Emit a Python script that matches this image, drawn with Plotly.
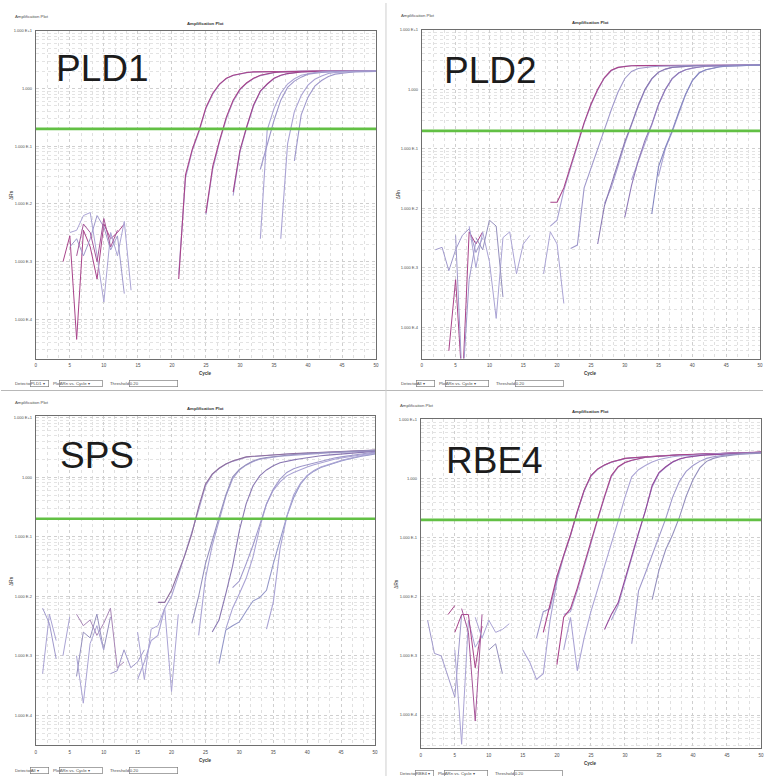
import plotly.graph_objects as go

# ---------------- data ----------------
cycle_tickvals = [0, 5, 10, 15, 20, 25, 30, 35, 40, 45, 50]
cycle_ticktext = ["0", "5", "10", "15", "20", "25", "30", "35", "40", "45", "50"]
drn_tickvals = [10, 1, 0.1, 0.01, 0.001, 0.0001]
drn_ticktext = ["1.000 E+1", "1.000", "1.000 E-1", "1.000 E-2", "1.000 E-3", "1.000 E-4"]
gene_labels = ["PLD1", "PLD2", "SPS", "RBE4"]
detectors = ["PLD1", "All", "All", "RBE4"]
plot_type = "ΔRn vs. Cycle"
threshold_drn = 0.20
threshold_text = "0.20"

# PLD1 amplification curves (first cycle, ΔRn per cycle)
pld1_start = [21, 21, 25, 25, 29, 29, 33, 33, 36, 38]
pld1_drn = [
    [6.0e-4, 0.028, 0.085, 0.18, 0.45, 0.80, 1.18, 1.49, 1.69, 1.81, 1.89, 1.94, 1.96, 1.97, 1.98, 1.99, 2.0, 2.0, 2.01, 2.0, 2.01, 2.01, 2.01, 2.02, 2.01, 2.02, 2.01, 2.02, 2.02, 2.03],
    [5.0e-4, 0.032, 0.089, 0.19, 0.47, 0.83, 1.2, 1.51, 1.70, 1.82, 1.9, 1.95, 1.96, 1.98, 1.99, 2.0, 2.0, 2.01, 2.0, 2.01, 2.01, 2.0, 2.01, 2.02, 2.01, 2.02, 2.02, 2.01, 2.02, 2.02],
    [0.0065, 0.04, 0.12, 0.30, 0.60, 0.95, 1.24, 1.49, 1.68, 1.80, 1.89, 1.94, 1.96, 1.98, 1.99, 1.99, 2.0, 2.0, 2.01, 2.01, 2.0, 2.01, 2.02, 2.01, 2.02, 2.02],
    [0.007, 0.045, 0.126, 0.32, 0.63, 0.98, 1.26, 1.51, 1.70, 1.82, 1.9, 1.95, 1.97, 1.98, 1.99, 2.0, 2.0, 2.01, 2.0, 2.01, 2.01, 2.02, 2.01, 2.02, 2.02, 2.02],
    [0.014, 0.08, 0.21, 0.50, 0.89, 1.18, 1.49, 1.69, 1.81, 1.89, 1.94, 1.96, 1.98, 1.99, 1.99, 2.0, 2.0, 2.01, 2.01, 2.02, 2.01, 2.02],
    [0.016, 0.085, 0.22, 0.52, 0.91, 1.2, 1.51, 1.70, 1.82, 1.9, 1.95, 1.97, 1.98, 1.99, 2.0, 2.0, 2.01, 2.01, 2.0, 2.01, 2.02, 2.02],
    [0.0025, 0.19, 0.45, 0.83, 1.2, 1.48, 1.70, 1.82, 1.9, 1.95, 1.97, 1.98, 1.99, 2.0, 2.0, 2.01, 2.01, 2.02],
    [0.04, 0.11, 0.28, 0.63, 1.05, 1.35, 1.58, 1.78, 1.86, 1.9, 1.95, 1.97, 1.98, 1.99, 2.0, 2.0, 2.01, 2.02],
    [0.0025, 0.11, 0.40, 0.76, 1.15, 1.45, 1.66, 1.82, 1.9, 1.95, 1.97, 1.98, 1.99, 2.0, 2.01],
    [0.056, 0.35, 0.71, 1.1, 1.38, 1.62, 1.78, 1.86, 1.9, 1.95, 1.97, 1.98, 1.99],
]
pld1_noise_start = [4, 5, 5, 6]
pld1_noise_drn = [
    [1.0e-3, 2.8e-3, 4.5e-5, 3.5e-3, 1.8e-3, 5.0e-4, 4.5e-3, 2.5e-3, 3.2e-3, 4.5e-3],
    [3.2e-3, 3.5e-3, 6.3e-3, 7.1e-3, 1.26e-3, 2.0e-4, 3.2e-3, 1.26e-3, 5.0e-3, 3.2e-4],
    [1.8e-3, 2.5e-3, 1.26e-3, 2.5e-3, 6.3e-3, 4.0e-3, 1.6e-3, 2.8e-3, 2.8e-4],
    [1.26e-3, 4.5e-3, 3.2e-3, 1.0e-3, 5.6e-3, 1.8e-3, 3.5e-3],
]

# PLD2
pld2_start = [19, 19, 22, 27, 26, 31, 30, 35, 34]
pld2_drn = [
    [0.005, 0.0063, 0.02, 0.048, 0.112, 0.265, 0.54, 0.97, 1.55, 2.05, 2.32, 2.44, 2.49, 2.5, 2.51, 2.51, 2.52, 2.52, 2.53, 2.52, 2.53, 2.53, 2.54, 2.53, 2.54, 2.54, 2.55, 2.54, 2.55, 2.55, 2.56, 2.56],
    [0.0126, 0.0126, 0.022, 0.05, 0.117, 0.275, 0.56, 1.0, 1.58, 2.09, 2.34, 2.45, 2.5, 2.51, 2.51, 2.52, 2.52, 2.53, 2.53, 2.52, 2.53, 2.54, 2.54, 2.53, 2.54, 2.55, 2.55, 2.54, 2.55, 2.56, 2.56, 2.57],
    [0.0021, 0.0024, 0.022, 0.048, 0.10, 0.21, 0.45, 0.89, 1.51, 2.0, 2.24, 2.34, 2.4, 2.45, 2.48, 2.5, 2.51, 2.51, 2.52, 2.53, 2.52, 2.53, 2.54, 2.54, 2.55, 2.54, 2.55, 2.56, 2.56],
    [0.012, 0.022, 0.05, 0.12, 0.25, 0.52, 0.97, 1.48, 1.93, 2.18, 2.33, 2.4, 2.45, 2.48, 2.5, 2.51, 2.52, 2.52, 2.53, 2.54, 2.54, 2.55, 2.55, 2.56],
    [0.0025, 0.011, 0.025, 0.056, 0.13, 0.26, 0.54, 1.0, 1.51, 1.95, 2.19, 2.34, 2.4, 2.45, 2.48, 2.5, 2.51, 2.52, 2.52, 2.53, 2.54, 2.54, 2.55, 2.55, 2.56],
    [0.03, 0.06, 0.13, 0.25, 0.55, 0.98, 1.5, 1.88, 2.13, 2.28, 2.38, 2.44, 2.48, 2.5, 2.51, 2.52, 2.53, 2.54, 2.55, 2.55],
    [0.007, 0.024, 0.063, 0.14, 0.26, 0.56, 1.0, 1.51, 1.9, 2.14, 2.29, 2.4, 2.45, 2.48, 2.5, 2.51, 2.52, 2.53, 2.54, 2.55, 2.56],
    [0.035, 0.1, 0.19, 0.41, 0.82, 1.4, 1.88, 2.13, 2.28, 2.38, 2.45, 2.49, 2.51, 2.52, 2.54, 2.55],
    [0.008, 0.05, 0.105, 0.20, 0.42, 0.83, 1.41, 1.9, 2.14, 2.29, 2.4, 2.45, 2.49, 2.51, 2.53, 2.54, 2.56],
]
pld2_noise_start = [2, 4, 7, 8, 18, 5]
pld2_noise_drn = [
    [2.0e-3, 2.2e-3, 8.9e-4, 2.0e-3, 3.5e-3, 4.5e-3, 1.8e-3, 3.2e-3],
    [4.0e-5, 6.3e-4, 1.0e-5, 4.0e-3, 2.5e-3, 4.0e-3],
    [5.0e-3, 1.0e-3, 4.0e-3, 1.26e-3, 1.4e-4, 3.2e-3, 4.0e-3, 7.9e-4, 2.5e-3, 3.5e-3],
    [3.2e-3, 2.0e-3, 6.3e-3, 5.0e-3, 3.2e-4],
    [7.9e-4, 4.0e-3, 2.5e-3, 2.5e-4],
    [3.5e-3, 1.0e-5, 6.3e-4, 2.8e-3],
]

# SPS
sps_start = [15, 18, 24, 23, 26, 28, 29, 27, 34]
sps_drn = [
    [4.0e-4, 7.9e-4, 1.8e-3, 2.2e-3, 6.3e-3, 0.01, 0.022, 0.05, 0.112, 0.28, 0.71, 1.1, 1.39, 1.64, 1.84, 2.02, 2.16, 2.22, 2.27, 2.32, 2.38, 2.41, 2.44, 2.47, 2.5, 2.53, 2.56, 2.59, 2.62, 2.65, 2.68, 2.71, 2.74, 2.77, 2.8, 2.83],
    [0.0079, 0.0079, 0.0126, 0.025, 0.05, 0.112, 0.316, 0.76, 1.12, 1.41, 1.66, 1.86, 2.04, 2.19, 2.24, 2.29, 2.34, 2.4, 2.43, 2.45, 2.48, 2.51, 2.54, 2.57, 2.6, 2.63, 2.66, 2.69, 2.72, 2.75, 2.79, 2.82, 2.85],
    [2.2e-3, 0.02, 0.071, 0.19, 0.47, 0.93, 1.32, 1.59, 1.82, 2.0, 2.1, 2.17, 2.24, 2.29, 2.34, 2.4, 2.45, 2.48, 2.51, 2.54, 2.57, 2.6, 2.63, 2.66, 2.69, 2.72, 2.75],
    [3.5e-3, 0.01, 0.035, 0.089, 0.21, 0.5, 1.0, 1.35, 1.62, 1.86, 2.04, 2.14, 2.21, 2.29, 2.34, 2.4, 2.45, 2.51, 2.54, 2.57, 2.6, 2.63, 2.66, 2.69, 2.72, 2.75, 2.79, 2.82],
    [2.5e-3, 4.0e-3, 0.011, 0.032, 0.126, 0.355, 0.71, 1.05, 1.32, 1.55, 1.74, 1.86, 1.95, 2.04, 2.14, 2.21, 2.29, 2.34, 2.4, 2.45, 2.51, 2.57, 2.63, 2.66, 2.69],
    [2.8e-3, 6.3e-3, 0.011, 0.02, 0.045, 0.141, 0.355, 0.60, 0.83, 1.05, 1.2, 1.35, 1.48, 1.62, 1.74, 1.86, 2.0, 2.09, 2.19, 2.29, 2.4, 2.48, 2.57],
    [0.014, 0.018, 0.035, 0.071, 0.158, 0.355, 0.63, 0.93, 1.2, 1.38, 1.51, 1.62, 1.74, 1.86, 1.97, 2.09, 2.19, 2.29, 2.37, 2.45, 2.54, 2.63],
    [7.4e-4, 2.7e-3, 3.2e-3, 3.7e-3, 5.6e-3, 8.3e-3, 9.5e-3, 0.0126, 0.035, 0.089, 0.22, 0.45, 0.76, 1.05, 1.26, 1.45, 1.58, 1.74, 1.86, 2.0, 2.14, 2.24, 2.34, 2.45],
    [2.8e-3, 7.9e-3, 0.063, 0.22, 0.5, 0.79, 1.07, 1.29, 1.48, 1.62, 1.78, 1.9, 2.04, 2.19, 2.29, 2.4, 2.51],
]
sps_noise_start = [1, 1, 4, 6, 6, 6, 11, 15]
sps_noise_drn = [
    [5.0e-4, 5.0e-3, 1.8e-3],
    [6.3e-3, 3.5e-3, 8.9e-4],
    [1.0e-3, 4.5e-3],
    [5.0e-3, 3.2e-3, 4.0e-3, 2.2e-3, 3.5e-3, 6.3e-3, 6.3e-4, 7.9e-4],
    [4.5e-4, 2.5e-3, 2.0e-3, 5.0e-3, 1.26e-3, 4.5e-3],
    [1.0e-3, 1.6e-4, 1.6e-3, 3.2e-3, 1.26e-3],
    [5.0e-4, 5.6e-4, 1.26e-3, 6.3e-4, 7.9e-4, 1.26e-3],
    [2.5e-3, 4.0e-4, 2.8e-3, 3.2e-3, 6.3e-3, 2.5e-4, 5.0e-3],
]

# RBE4
rbe4_start = [15, 17, 18, 21, 20, 21, 28, 27, 31, 34]
rbe4_drn = [
    [1.26e-3, 7.9e-4, 4.0e-4, 5.0e-4, 4.0e-3, 0.018, 0.048, 0.107, 0.27, 0.61, 1.1, 1.43, 1.68, 1.88, 2.02, 2.17, 2.22, 2.27, 2.32, 2.38, 2.41, 2.43, 2.46, 2.49, 2.52, 2.55, 2.58, 2.61, 2.61, 2.64, 2.67, 2.67, 2.7, 2.73, 2.73, 2.77],
    [2.0e-3, 5.6e-3, 6.3e-3, 0.02, 0.05, 0.11, 0.27, 0.62, 1.1, 1.44, 1.69, 1.89, 2.03, 2.18, 2.23, 2.28, 2.33, 2.39, 2.42, 2.44, 2.47, 2.5, 2.53, 2.56, 2.59, 2.62, 2.62, 2.65, 2.68, 2.68, 2.71, 2.74, 2.74, 2.78],
    [2.5e-3, 7.1e-3, 0.022, 0.05, 0.112, 0.28, 0.63, 1.12, 1.45, 1.7, 1.9, 2.04, 2.19, 2.24, 2.29, 2.34, 2.4, 2.43, 2.45, 2.48, 2.51, 2.54, 2.57, 2.6, 2.63, 2.63, 2.66, 2.69, 2.69, 2.72, 2.75, 2.75, 2.79],
    [5.0e-3, 5.6e-3, 0.0126, 0.032, 0.083, 0.2, 0.48, 1.07, 1.55, 1.84, 2.02, 2.17, 2.27, 2.33, 2.39, 2.44, 2.47, 2.5, 2.53, 2.56, 2.59, 2.62, 2.62, 2.65, 2.68, 2.68, 2.71, 2.74, 2.74, 2.78],
    [7.1e-4, 4.5e-3, 6.3e-3, 0.014, 0.035, 0.089, 0.21, 0.5, 1.12, 1.58, 1.86, 2.04, 2.19, 2.29, 2.34, 2.4, 2.45, 2.48, 2.51, 2.54, 2.57, 2.6, 2.63, 2.63, 2.66, 2.69, 2.69, 2.72, 2.75, 2.75, 2.79],
    [1.26e-3, 4.5e-3, 5.6e-4, 2.0e-3, 5.6e-3, 0.014, 0.035, 0.079, 0.19, 0.48, 1.07, 1.41, 1.66, 1.9, 2.09, 2.24, 2.34, 2.4, 2.45, 2.51, 2.54, 2.57, 2.6, 2.63, 2.63, 2.66, 2.69, 2.69, 2.72, 2.75],
    [4.0e-3, 0.0071, 0.018, 0.045, 0.11, 0.26, 0.72, 1.22, 1.55, 1.88, 2.12, 2.27, 2.38, 2.44, 2.5, 2.53, 2.56, 2.59, 2.62, 2.65, 2.68, 2.71, 2.74],
    [2.8e-3, 5.0e-3, 7.9e-3, 0.02, 0.05, 0.12, 0.28, 0.76, 1.26, 1.58, 1.9, 2.14, 2.29, 2.4, 2.45, 2.51, 2.54, 2.57, 2.6, 2.63, 2.66, 2.69, 2.72, 2.75],
    [1.6e-3, 0.0126, 0.025, 0.05, 0.1, 0.21, 0.48, 0.89, 1.32, 1.66, 1.95, 2.19, 2.34, 2.45, 2.51, 2.57, 2.63, 2.66, 2.69, 2.72],
    [8.9e-3, 0.028, 0.063, 0.112, 0.22, 0.5, 0.95, 1.51, 1.95, 2.19, 2.34, 2.45, 2.51, 2.57, 2.63, 2.66, 2.69],
]
rbe4_noise_start = [1, 5, 5, 6, 10, 10, 4, 8]
rbe4_noise_drn = [
    [4.0e-3, 1.1e-3, 1.0e-3, 4.5e-4, 2.0e-4, 5.0e-3],
    [1.26e-3, 3.2e-5, 4.0e-3, 1.4e-3, 2.2e-3],
    [2.5e-3, 5.0e-3, 5.0e-3, 6.3e-4, 3.2e-3],
    [6.3e-3, 2.5e-3, 7.9e-5, 5.0e-3],
    [4.0e-3, 2.5e-3, 2.8e-3, 3.5e-3],
    [1.26e-3, 1.6e-3, 5.0e-4],
    [5.0e-3, 7.1e-3],
    [4.5e-3, 2.0e-3, 4.0e-3],
]

# ---------------- styles / layout ----------------
MAG = "#a8438a"
LAV = "#aaa3d4"
LAV2 = "#9f98cb"
PUR = "#8a78b2"
GRY = "#9590bd"

pld1_colors = [LAV, MAG, LAV, MAG, LAV, "#a0448e", LAV, LAV2, LAV, LAV2]
pld1_noise_colors = [MAG, LAV, LAV2, "#a65699"]
pld2_colors = [LAV, MAG, LAV2, LAV, PUR, LAV, "#9079b8", LAV, "#8587c0"]
pld2_noise_colors = [LAV2, MAG, LAV, GRY, LAV, LAV2]
sps_colors = [LAV, "#8f6f9f", LAV, GRY, PUR, LAV, LAV2, "#9497c8", LAV]
sps_noise_colors = [LAV, LAV2, LAV, "#a886b6", GRY, LAV, LAV2, LAV]
rbe4_colors = [LAV, LAV2, MAG, LAV, MAG, LAV, LAV, "#94489a", LAV2, GRY]
rbe4_noise_colors = [LAV2, LAV, MAG, "#a65699", LAV, GRY, MAG, LAV]

W, H = 766, 776
frames = [(35, 28, 377, 357), (423, 27, 763, 357), (35, 415, 376, 745), (422, 418, 764, 748)]
log_ranges = [(-4.68, 1.0), (-4.53, 1.0), (-4.5, 1.02), (-4.56, 1.0)]
label_offsets = [(18, 38), (20, 41), (22, 39), (23, 41)]

panels = [
    (pld1_start, pld1_drn, pld1_colors, pld1_noise_start, pld1_noise_drn, pld1_noise_colors),
    (pld2_start, pld2_drn, pld2_colors, pld2_noise_start, pld2_noise_drn, pld2_noise_colors),
    (sps_start, sps_drn, sps_colors, sps_noise_start, sps_noise_drn, sps_noise_colors),
    (rbe4_start, rbe4_drn, rbe4_colors, rbe4_noise_start, rbe4_noise_drn, rbe4_noise_colors),
]


def fx(x):
    return x / W


def fy(y):
    return 1 - y / H


fig = go.Figure()
annotations = []
shapes = []
TXT = "#4d4d4d"
FONT = "Liberation Sans, Arial, sans-serif"

for i, (starts, curves, colors, nstarts, ncurves, ncolors) in enumerate(panels):
    k = i + 1
    xa, ya = f"x{k}", f"y{k}"
    L, T, R, B = frames[i]
    # noise fragments (early cycles)
    for s, vals, c in zip(nstarts, ncurves, ncolors):
        fig.add_trace(go.Scatter(x=list(range(s, s + len(vals))), y=vals, mode="lines",
                                 line=dict(color=c, width=1.0), xaxis=xa, yaxis=ya,
                                 showlegend=False, hoverinfo="skip"))
    # amplification curves
    for s, vals, c in zip(starts, curves, colors):
        fig.add_trace(go.Scatter(x=list(range(s, s + len(vals))), y=vals, mode="lines",
                                 line=dict(color=c, width=1.1), xaxis=xa, yaxis=ya,
                                 showlegend=False, hoverinfo="skip"))
    # threshold
    fig.add_trace(go.Scatter(x=[cycle_tickvals[0], cycle_tickvals[-1]], y=[threshold_drn, threshold_drn],
                             mode="lines", line=dict(color="#62c044", width=2.6), xaxis=xa, yaxis=ya,
                             showlegend=False, hoverinfo="skip"))

    fig.layout[f"xaxis{k}"] = dict(
        domain=[fx(L), fx(R)], range=[0, 50], anchor=ya,
        tickmode="array", tickvals=cycle_tickvals, ticktext=cycle_ticktext,
        showline=True, mirror=True, linecolor="#6e6e6e", linewidth=1,
        showgrid=True, gridcolor="#cfcfcf", griddash="dot", gridwidth=1,
        minor=dict(tickmode="linear", tick0=0, dtick=5 / 3, showgrid=True,
                   gridcolor="#e0e0e0", griddash="dot", gridwidth=1),
        zeroline=False, ticks="outside", ticklen=2, tickcolor="rgba(0,0,0,0)",
        tickfont=dict(size=4.5, color=TXT, family=FONT), fixedrange=True)
    fig.layout[f"yaxis{k}"] = dict(
        domain=[fy(B), fy(T)], type="log", range=list(log_ranges[i]), anchor=xa,
        tickmode="array", tickvals=drn_tickvals, ticktext=drn_ticktext,
        showline=True, mirror=True, linecolor="#6e6e6e", linewidth=1,
        showgrid=True, gridcolor="#cfcfcf", griddash="dot", gridwidth=1,
        minor=dict(tickmode="linear", dtick="D1", showgrid=True,
                   gridcolor="#e3e3e3", griddash="dot", gridwidth=1),
        zeroline=False, ticks="outside", ticklen=2, tickcolor="rgba(0,0,0,0)",
        tickfont=dict(size=4, color=TXT, family=FONT), fixedrange=True)

    cx = (L + R) / 2
    small = dict(family=FONT, size=4.3, color=TXT)
    annotations += [
        dict(text="Amplification Plot", x=fx(L - 23), y=fy(T - 14), xref="paper", yref="paper",
             xanchor="left", yanchor="middle", showarrow=False, font=small),
        dict(text="<b>Amplification Plot</b>", x=fx(cx), y=fy(T - 3), xref="paper", yref="paper",
             xanchor="center", yanchor="bottom", showarrow=False, font=dict(family=FONT, size=4.3, color="#333")),
        dict(text="ΔRn", x=fx(L - 24), y=fy((T + B) / 2), xref="paper", yref="paper", textangle=-90,
             xanchor="center", yanchor="middle", showarrow=False, font=dict(family=FONT, size=4.6, color="#333")),
        dict(text="<b>Cycle</b>", x=fx(cx), y=fy(B + 15), xref="paper", yref="paper",
             xanchor="center", yanchor="middle", showarrow=False, font=dict(family=FONT, size=4.5, color="#333")),
        dict(text="Detector", x=fx(L - 23), y=fy(B + 25), xref="paper", yref="paper",
             xanchor="left", yanchor="middle", showarrow=False, font=small),
        dict(text=detectors[i] + " ▾", x=fx(L - 6), y=fy(B + 25), xref="paper", yref="paper",
             xanchor="left", yanchor="middle", showarrow=False, font=small, width=18, height=6,
             align="left", bordercolor="#808080", borderwidth=0.7, borderpad=0),
        dict(text="Plot", x=fx(L + 15), y=fy(B + 25), xref="paper", yref="paper",
             xanchor="left", yanchor="middle", showarrow=False, font=small),
        dict(text=plot_type + " ▾", x=fx(L + 23), y=fy(B + 25), xref="paper", yref="paper",
             xanchor="left", yanchor="middle", showarrow=False, font=small, width=43, height=6,
             align="left", bordercolor="#808080", borderwidth=0.7, borderpad=0),
        dict(text="Threshold", x=fx(L + 73), y=fy(B + 25), xref="paper", yref="paper",
             xanchor="left", yanchor="middle", showarrow=False, font=small),
        dict(text=threshold_text, x=fx(L + 94), y=fy(B + 25), xref="paper", yref="paper",
             xanchor="left", yanchor="middle", showarrow=False, font=small, width=48, height=6,
             align="left", bordercolor="#808080", borderwidth=0.7, borderpad=0),
        dict(text=gene_labels[i], x=fx(L + label_offsets[i][0]), y=fy(T + label_offsets[i][1]),
             xref="paper", yref="paper", xanchor="left", yanchor="middle", showarrow=False,
             font=dict(family=FONT, size=37, color="#1c1c1c")),
    ]

# separators between the four screenshots
shapes += [
    dict(type="line", xref="paper", yref="paper", x0=0, x1=1, y0=fy(389), y1=fy(389),
         line=dict(color="#b8b8b8", width=1.2)),
    dict(type="line", xref="paper", yref="paper", x0=fx(387), x1=fx(387), y0=0, y1=1,
         line=dict(color="#cfcfcf", width=1)),
]

fig.update_layout(width=W, height=H, margin=dict(l=0, r=0, t=0, b=0),
                  paper_bgcolor="white", plot_bgcolor="white",
                  annotations=annotations, shapes=shapes, showlegend=False,
                  font=dict(family=FONT))
fig.write_html("out.html")
